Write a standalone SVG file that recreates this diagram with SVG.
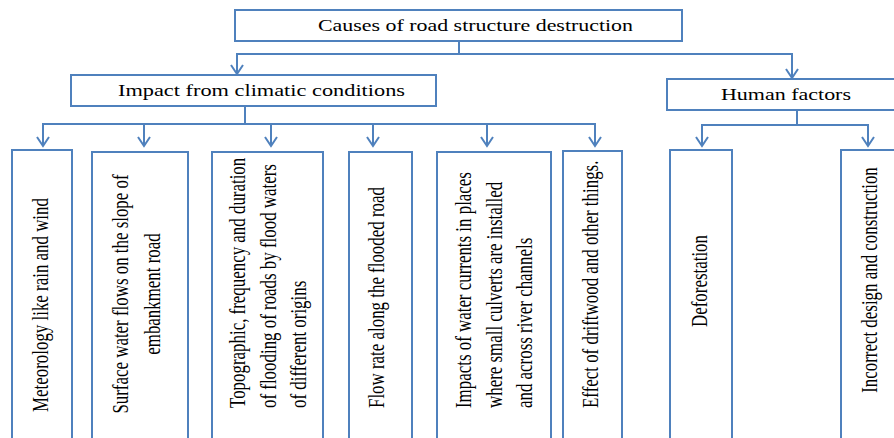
<svg xmlns="http://www.w3.org/2000/svg" width="894" height="438" viewBox="0 0 894 438">
<style>
.box{fill:#ffffff;stroke:#4f81bd;stroke-width:2}
.con{fill:none;stroke:#4f81bd;stroke-width:2}
.t{font-family:"Liberation Serif","Times New Roman",serif;font-size:16.5px;fill:#000000}
.r{font-size:16.9px}
.m{text-anchor:middle}
</style>
<defs>
<marker id="ah" markerUnits="userSpaceOnUse" markerWidth="14" markerHeight="16" refX="12" refY="8" orient="auto" viewBox="0 0 14 16">
<path d="M3,2 L12,8 L3,14" fill="none" stroke="#4f81bd" stroke-width="2"/>
</marker>
</defs>
<rect width="894" height="438" fill="#ffffff"/>
<g id="connectors">
<path class="con" d="M459,41 V54 M236,54 H793"/>
<path class="con" d="M237,54 V74" marker-end="url(#ah)"/>
<path class="con" d="M792,54 V78" marker-end="url(#ah)"/>
<path class="con" d="M245,106 V124 M42,124 H596"/>
<path class="con" d="M43,124 V146" marker-end="url(#ah)"/>
<path class="con" d="M144,124 V146" marker-end="url(#ah)"/>
<path class="con" d="M271,124 V146" marker-end="url(#ah)"/>
<path class="con" d="M373,124 V146" marker-end="url(#ah)"/>
<path class="con" d="M487,124 V146" marker-end="url(#ah)"/>
<path class="con" d="M595,124 V146" marker-end="url(#ah)"/>
<path class="con" d="M797,110 V125 M701,125 H869"/>
<path class="con" d="M702,125 V146" marker-end="url(#ah)"/>
<path class="con" d="M868,125 V146" marker-end="url(#ah)"/>
</g>
<g id="n-root">
<rect class="box" x="235" y="10" width="447" height="31"/>
<text class="t" x="318" y="31" textLength="315" lengthAdjust="spacingAndGlyphs">Causes of road structure destruction</text>
</g>
<g id="n-climatic">
<rect class="box" x="71" y="75" width="365" height="31"/>
<text class="t" x="118" y="96" textLength="287" lengthAdjust="spacingAndGlyphs">Impact from climatic conditions</text>
</g>
<g id="n-human">
<rect class="box" x="667" y="79" width="240" height="31"/>
<text class="t" x="721" y="100" textLength="130" lengthAdjust="spacingAndGlyphs">Human factors</text>
</g>
<g id="n-meteorology">
<rect class="box" x="12" y="150" width="60" height="300"/>
<text class="t r m" transform="translate(48,305) scale(1.33,1) rotate(-90)">Meteorology like rain and wind</text>
</g>
<g id="n-surface">
<rect class="box" x="92" y="152" width="96" height="300"/>
<g transform="translate(128,294) scale(1.33,1) rotate(-90)">
<text class="t r m" x="0" y="0">Surface water flows on the slope of</text>
<text class="t r m" x="0" y="24">embankment road</text>
</g>
</g>
<g id="n-topographic">
<rect class="box" x="212" y="152" width="111" height="300"/>
<g transform="translate(245,408) scale(1.33,1) rotate(-90)">
<text class="t r" x="0" y="0">Topographic, frequency and duration</text>
<text class="t r" x="0" y="23">of flooding of roads by flood waters</text>
<text class="t r" x="0" y="46">of different origins</text>
</g>
</g>
<g id="n-flowrate">
<rect class="box" x="349" y="152" width="63" height="300"/>
<text class="t r" transform="translate(384,408) scale(1.33,1) rotate(-90)">Flow rate along the flooded road</text>
</g>
<g id="n-impacts">
<rect class="box" x="437" y="152" width="114" height="300"/>
<g transform="translate(471,408) scale(1.33,1) rotate(-90)">
<text class="t r" x="0" y="0">Impacts of water currents in places</text>
<text class="t r" x="0" y="23">where small culverts are installed</text>
<text class="t r" x="0" y="46">and across river channels</text>
</g>
</g>
<g id="n-driftwood">
<rect class="box" x="563" y="151" width="59" height="300"/>
<text class="t r" transform="translate(598,408) scale(1.33,1) rotate(-90)">Effect of driftwood and other things.</text>
</g>
<g id="n-deforestation">
<rect class="box" x="670" y="150" width="62" height="300"/>
<text class="t r m" transform="translate(707,281) scale(1.33,1) rotate(-90)">Deforestation</text>
</g>
<g id="n-incorrect">
<rect class="box" x="841" y="150" width="62" height="300"/>
<text class="t r m" transform="translate(877,280) scale(1.33,1) rotate(-90)">Incorrect design and construction</text>
</g>
</svg>
